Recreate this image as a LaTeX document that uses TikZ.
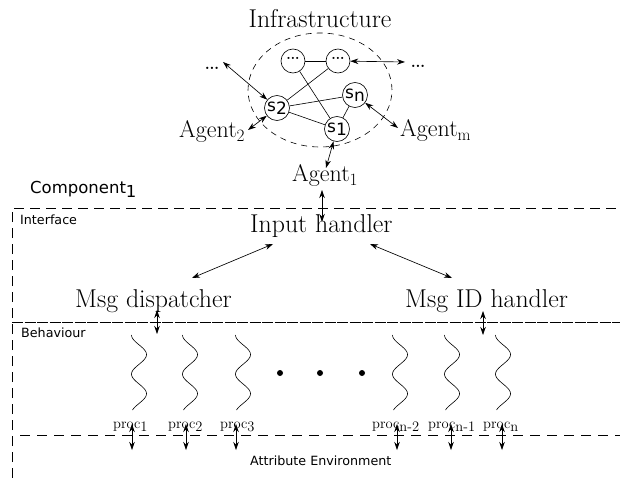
\documentclass[tikz,border=0pt]{standalone}
\usepackage{fontspec}
\newfontfamily\dvs{DejaVu Sans}
\usetikzlibrary{arrows.meta}
\begin{document}
\begin{tikzpicture}[x=1pt,y=-1pt,
  big/.style={font=\fontsize{25.8}{30}\selectfont, inner sep=0pt},
  agent/.style={font=\fontsize{24}{28}\selectfont, inner sep=0pt},
  snode/.style={circle, draw, line width=0.65pt, minimum size=25pt, inner sep=0pt, font=\dvs\fontsize{17}{18}\selectfont},
  dnode/.style={circle, draw, line width=0.65pt, minimum size=24pt, inner sep=0pt, font=\fontsize{26}{26}\selectfont},
  dbl/.style={{Stealth[length=8pt,width=5.5pt]}-{Stealth[length=8pt,width=5.5pt]}, line width=0.65pt},
  edge/.style={line width=0.6pt},
  sans/.style={font=\dvs\fontsize{12.7}{15}\selectfont, inner sep=0pt},
  csans/.style={font=\dvs\fontsize{16.5}{19}\selectfont, inner sep=0pt},
  proclab/.style={font=\fontsize{14.5}{16}\selectfont, inner sep=0pt},
  bigdash/.style={line width=0.6pt, dash pattern=on 10pt off 6pt},
]
\useasboundingbox (0,0) rectangle (620,478);

% Infrastructure
\node[big, anchor=base] (infra) at (320,28) {Infrastructure};
\draw[line width=0.6pt, dash pattern=on 6pt off 5pt] (320,90) ellipse [x radius=72pt, y radius=57pt];

\node[dnode] (dl) at (293,61) {\makebox[0pt]{\raisebox{5pt}{\dots}}};
\node[dnode] (dr) at (338,61) {\makebox[0pt]{\raisebox{5pt}{\dots}}};
\node[snode] (s2) at (277,108) {s\raisebox{-3pt}{2}};
\node[snode] (sn) at (355,95) {s\raisebox{-3pt}{n}};
\node[snode] (s1) at (337,129) {s\raisebox{-3pt}{1}};

\draw[edge] (dl) -- (dr);
\draw[edge] (dl) -- (s1);
\draw[edge] (dr) -- (s2);
\draw[edge] (s2) -- (sn);
\draw[edge] (s2) -- (s1);
\draw[edge] (sn) -- (s1);

\node[font=\fontsize{28}{30}\selectfont, inner sep=0pt, anchor=base] (dotsl) at (212,70) {\dots};
\node[font=\fontsize{28}{30}\selectfont, inner sep=0pt, anchor=base] (dotsr) at (418,68) {\dots};
\node[agent, anchor=base west] (ag2) at (179,138) {Agent$_2$};
\node[agent, anchor=base west] (agm) at (400,137) {Agent$_{\mathrm{m}}$};
\node[agent, anchor=base west] (ag1) at (292,182) {Agent$_1$};

\coordinate (cl) at (223,62);
\coordinate (cr) at (405,62);
\coordinate (cm) at (398,128);
\coordinate (c2) at (248,130);
\coordinate (c1) at (326,168);
\draw[dbl] (cl) -- (s2);
\draw[dbl] (dr) -- (cr);
\draw[dbl] (sn) -- (cm);
\draw[dbl] (s2) -- (c2);
\draw[dbl] (s1) -- (c1);

% Component
\node[csans, anchor=base west] (comp) at (30,194) {Component\raisebox{-3pt}{1}};
\draw[bigdash] (12,478) -- (12,208) -- (620,208);
\node[sans, anchor=base west] (iface) at (20,225) {Interface};

\node[big, anchor=base west] (input) at (250,233) {Input handler};
\node[big, anchor=base west] (disp) at (75,307) {Msg dispatcher};
\node[big, anchor=base west] (idh) at (405,307) {Msg ID handler};

\coordinate (ia) at (322,190);
\coordinate (ib) at (322,222);
\draw[dbl] (ia) -- (ib);
\coordinate (il) at (273,244);
\coordinate (dl2) at (192,278);
\coordinate (ir) at (370,244);
\coordinate (dr2) at (452,278);
\draw[dbl] (il) -- (dl2);
\draw[dbl] (ir) -- (dr2);

% Behaviour
\draw[line width=0.6pt, dash pattern=on 11pt off 1.5pt] (12,322) -- (620,322);
\node[sans, anchor=base west] (behav) at (21,337) {Behaviour};
\coordinate (da) at (157,310);
\coordinate (db) at (157,334);
\coordinate (ma) at (483,311);
\coordinate (mb) at (483,335);
\draw[dbl] (da) -- (db);
\draw[dbl] (ma) -- (mb);

\foreach \xc in {139,190,243,400,452,503}
  \draw[edge] plot[domain=-90:600, samples=70, smooth] ({\xc+7.5*sin(\x)}, {335+0.1087*(\x+90)});

\fill (280,373) circle (3pt);
\fill (320,373) circle (3pt);
\fill (362,373) circle (3pt);

\node[proclab, anchor=base west] (p1) at (113,428) {proc\raisebox{-3pt}{1}};
\node[proclab, anchor=base west] (p2) at (168,428) {proc\raisebox{-3pt}{2}};
\node[proclab, anchor=base west] (p3) at (220,428) {proc\raisebox{-3pt}{3}};
\node[proclab, anchor=base west] (pn2) at (372,428) {proc\raisebox{-3pt}{n-2}};
\node[proclab, anchor=base west] (pn1) at (428,428) {proc\raisebox{-3pt}{n-1}};
\node[proclab, anchor=base west] (pn) at (483,428) {proc\raisebox{-3pt}{n}};

\draw[line width=0.6pt, dash pattern=on 10pt off 7pt] (20,435) -- (620,435);
\foreach \px [count=\i] in {132,186,236,397,451,502} {
  \coordinate (pa\i) at (\px,424);
  \coordinate (pb\i) at (\px,450);
  \draw[dbl] (pa\i) -- (pb\i);
}
\node[sans, anchor=base west] (attr) at (250,465) {Attribute Environment};
\end{tikzpicture}
\end{document}
